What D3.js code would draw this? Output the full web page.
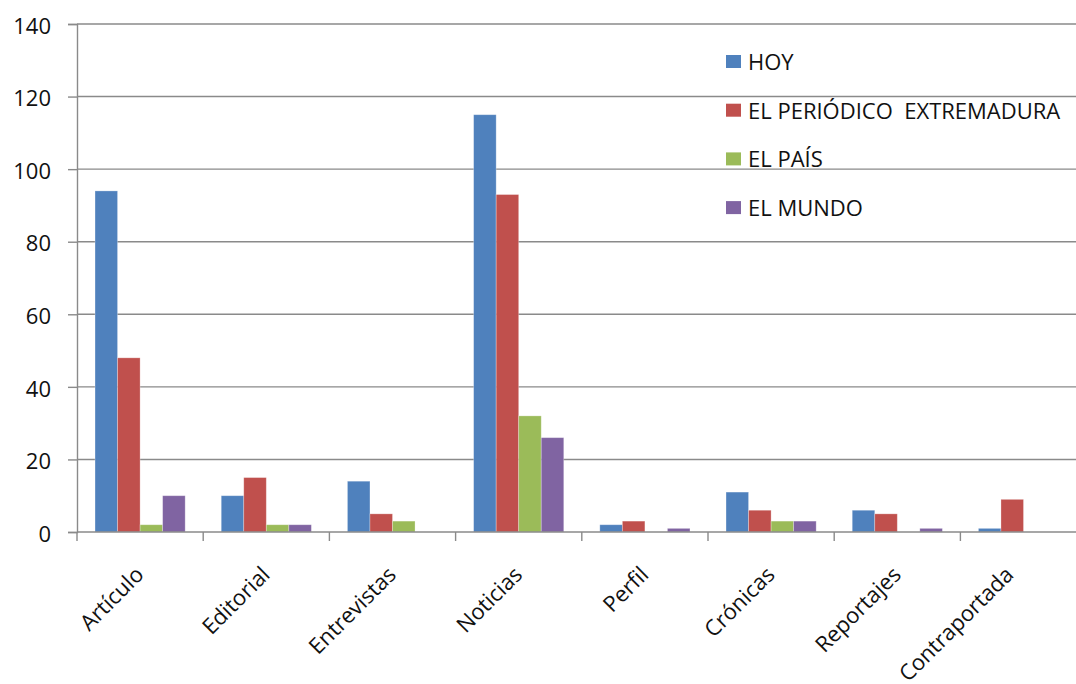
<!DOCTYPE html>
<html>
<head>
<meta charset="utf-8">
<script src="https://cdn.jsdelivr.net/npm/d3@7"></script>
<style>
  html, body { margin: 0; padding: 0; background: #fff; }
  svg { display: block; }
  text { font-family: "Open Sans", sans-serif; fill: #111; }
</style>
</head>
<body>
<svg id="chart" width="1076" height="684"></svg>
<script>
// Genres of opinion/news pieces counted per newspaper
const categories = ["Artículo", "Editorial", "Entrevistas", "Noticias", "Perfil", "Crónicas", "Reportajes", "Contraportada"];
const seriesNames = ["HOY", "EL PERIÓDICO  EXTREMADURA", "EL PAÍS", "EL MUNDO"];
const hoy       = [94, 10, 14, 115, 2, 11, 6, 1];
const periodico = [48, 15, 5, 93, 3, 6, 5, 9];
const pais      = [2, 2, 3, 32, 0, 3, 0, 0];
const mundo     = [10, 2, 0, 26, 1, 3, 1, 0];
const yTicks = [0, 20, 40, 60, 80, 100, 120, 140];
const colors = ["#4F81BD", "#C0504D", "#9BBB59", "#8064A2"];

const seriesValues = [hoy, periodico, pais, mundo];

const svg = d3.select("#chart");
const plotLeft = 77, plotTop = 24, plotBottom = 532;
const catStep = 126.2;
const plotRight = plotLeft + catStep * categories.length;
const fontSize = "22px";

const y = d3.scaleLinear().domain([0, 140]).range([plotBottom, plotTop]);
const x0 = d3.scaleBand().domain(categories).range([plotLeft, plotRight]).paddingInner(0).paddingOuter(0);
const x1 = d3.scaleBand().domain(seriesNames).range([0, x0.bandwidth()]).paddingInner(0).paddingOuter(0.8);
const color = d3.scaleOrdinal().domain(seriesNames).range(colors);

// horizontal gridlines
svg.append("g")
  .selectAll("line")
  .data(yTicks.filter(d => d > 0))
  .join("line")
  .attr("x1", plotLeft).attr("x2", plotRight)
  .attr("y1", d => y(d)).attr("y2", d => y(d))
  .attr("stroke", "#8a8a8a").attr("stroke-width", 1.4);

// y axis
const yAxis = svg.append("g")
  .attr("transform", `translate(${plotLeft},0)`)
  .call(d3.axisLeft(y).tickValues(yTicks).tickSize(9).tickPadding(17));
yAxis.select(".domain").attr("stroke", "#8a8a8a").attr("stroke-width", 1.4);
yAxis.selectAll(".tick line").attr("stroke", "#8a8a8a").attr("stroke-width", 1.4);
yAxis.selectAll(".tick text")
  .style("font-family", "'Open Sans', sans-serif")
  .style("font-size", fontSize)
  .attr("dy", "0.42em")
  .attr("fill", "#111");

// bars
const groups = svg.append("g")
  .selectAll("g")
  .data(categories.map((c, i) => ({ cat: c, vals: seriesNames.map((s, j) => ({ s, v: seriesValues[j][i] })) })))
  .join("g")
  .attr("transform", d => `translate(${x0(d.cat)},0)`);

groups.selectAll("rect")
  .data(d => d.vals.filter(e => e.v > 0))
  .join("rect")
  .attr("x", d => x1(d.s))
  .attr("width", x1.bandwidth())
  .attr("y", d => y(d.v))
  .attr("height", d => y(0) - y(d.v))
  .attr("fill", d => color(d.s))
  .attr("stroke", "rgba(255,255,255,0.35)")
  .attr("stroke-width", 0.8);

// x axis with ticks at category boundaries
const boundaries = d3.range(categories.length + 1).map(i => plotLeft + i * x0.step());
svg.append("line")
  .attr("x1", plotLeft).attr("x2", plotRight)
  .attr("y1", plotBottom).attr("y2", plotBottom)
  .attr("stroke", "#8a8a8a").attr("stroke-width", 1.4);
svg.append("g")
  .selectAll("line")
  .data(boundaries)
  .join("line")
  .attr("x1", d => d).attr("x2", d => d)
  .attr("y1", plotBottom).attr("y2", plotBottom + 9)
  .attr("stroke", "#8a8a8a").attr("stroke-width", 1.4);

// rotated category labels, kept inside the right edge of the frame
const labelMaxX = 1015;
svg.append("g")
  .selectAll("text")
  .data(categories)
  .join("text")
  .attr("text-anchor", "end")
  .attr("transform", d => `translate(${Math.min(x0(d) + x0.bandwidth() / 2 + 5, labelMaxX)},${plotBottom + 44}) rotate(-45)`)
  .style("font-size", fontSize)
  .text(d => d);

// legend
const legend = svg.append("g").attr("transform", "translate(726,62)");
const rows = legend.selectAll("g")
  .data(seriesNames)
  .join("g")
  .attr("transform", (d, i) => `translate(0,${i * 48.7})`);
rows.append("rect")
  .attr("x", 0).attr("y", -7)
  .attr("width", 15).attr("height", 13)
  .attr("fill", d => color(d));
rows.append("text")
  .attr("x", 22).attr("dy", "0.36em")
  .style("font-size", fontSize)
  .style("white-space", "pre")
  .attr("xml:space", "preserve")
  .text(d => d);
</script>
</body>
</html>
